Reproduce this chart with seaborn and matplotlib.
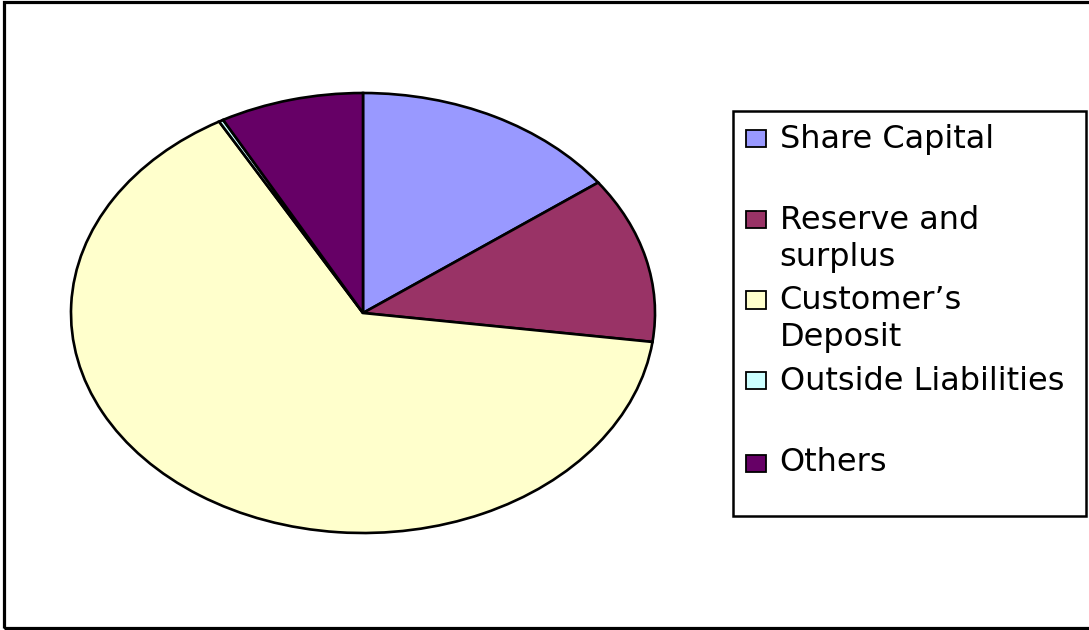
import matplotlib
matplotlib.use("Agg")
import matplotlib.pyplot as plt
from matplotlib.patches import Rectangle
from matplotlib.legend_handler import HandlerPatch
import seaborn as sns

# Composition of liabilities (percent of total)
categories = ["Share Capital", "Reserve and\nsurplus", "Customer\u2019s\nDeposit",
              "Outside Liabilities", "Others"]
shares = [14.9, 12.2, 64.7, 0.25, 7.95]
colors = ["#9999FF", "#993366", "#FFFFCC", "#CCFFFF", "#660066"]

sns.set_theme(style="white")
plt.rcParams["font.family"] = ["DejaVu Sans"]
plt.rcParams["text.color"] = "black"

W, H = 1089, 630
fig = plt.figure(figsize=(W / 100, H / 100), dpi=100)
fig.patch.set_facecolor("white")

# outer chart border (right side runs off the canvas)
fig.patches.append(Rectangle((4 / W, 2 / H), 1.2, 626 / H, transform=fig.transFigure,
                             fill=False, edgecolor="black", linewidth=2.3, zorder=0))

# elliptical pie: unit circle stretched into a 584 x 440 px box
cx, cy, rx, ry = 363, 313, 292, 220
ax = fig.add_axes([(cx - rx) / W, (H - cy - ry) / H, 2 * rx / W, 2 * ry / H])
palette = sns.color_palette(colors)
wedges, _ = ax.pie(shares, colors=palette, startangle=90, counterclock=False,
                   wedgeprops=dict(edgecolor="black", linewidth=1.9))
ax.set_aspect("auto")
ax.set_xlim(-1, 1)
ax.set_ylim(-1, 1)
ax.axis("off")
for w in wedges:
    w.set_clip_on(False)

fs = 23
# every entry takes two text rows; the last one gets a shorter blank row
line_gaps = [1.25, 1.25, 1.25, 1.25, 0.75]
labels = [c if "\n" in c else c + "\n" for c in categories]
gap_of = {id(w): g for w, g in zip(wedges, line_gaps)}


def top_aligned_box(legend, orig_handle, xdescent, ydescent, width, height, fontsize):
    # keep the swatch level with the first text row
    shift = 0.5 * gap_of[id(orig_handle)] * fontsize
    return Rectangle((-xdescent, -ydescent + shift), width, height)


leg = fig.legend(wedges, labels, loc="upper left",
                 bbox_to_anchor=(733 / W, (H - 517) / H, 353 / W, 406 / H),
                 mode="expand", borderaxespad=0, fontsize=fs,
                 frameon=True, fancybox=False, shadow=False, framealpha=1,
                 handlelength=0.63, handleheight=0.46, handletextpad=0.43,
                 borderpad=0.4, labelspacing=0.40,
                 handler_map={w: HandlerPatch(patch_func=top_aligned_box) for w in wedges})
for t, g in zip(leg.get_texts(), line_gaps):
    t.set_linespacing(g)
frame = leg.get_frame()
frame.set_edgecolor("black")
frame.set_linewidth(1.8)
frame.set_facecolor("white")
for h in leg.legend_handles:
    h.set_edgecolor("black")
    h.set_linewidth(1.3)

fig.savefig("out.png", dpi=100, facecolor="white")
